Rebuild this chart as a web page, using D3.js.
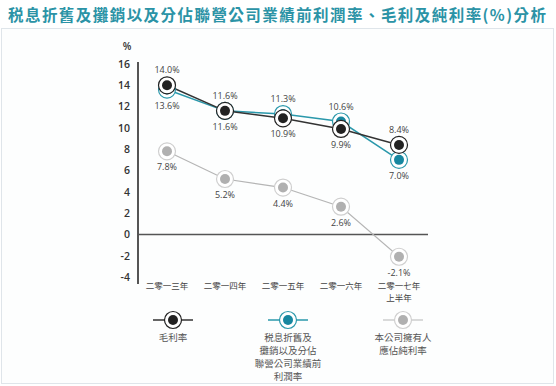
<!DOCTYPE html>
<html lang="zh-Hant">
<head>
<meta charset="utf-8">
<title>毛利及純利率分析</title>
<script src="https://cdn.jsdelivr.net/npm/d3@7"></script>
<style>
  body { margin: 0; background: #fff; }
  svg { display: block; }
  text { font-family: "Noto Sans CJK TC", "Noto Sans", sans-serif; }
</style>
</head>
<body>
<div id="chart"></div>
<script>
// data
var years = ["二零一三年", "二零一四年", "二零一五年", "二零一六年", "二零一七年\n上半年"];
var grossMargin = [14.0, 11.6, 10.9, 9.9, 8.4];
var ebitdaMargin = [13.6, 11.6, 11.3, 10.6, 7.0];
var netMargin = [7.8, 5.2, 4.4, 2.6, -2.1];
// label above (+1) or below (-1) the point
var grossPos = [1, -1, -1, -1, 1];
var ebitdaPos = [-1, 1, 1, 1, -1];
var netPos = [-1, -1, -1, -1, -1];
var yTicks = [16, 14, 12, 10, 8, 6, 4, 2, 0, -2, -4];
var legendNames = [["毛利率"], ["税息折舊及", "攤銷以及分佔", "聯營公司業績前", "利潤率"], ["本公司擁有人", "應佔純利率"]];

var w = 556, h = 386;

var svg = d3.select("#chart").append("svg")
    .attr("width", w)
    .attr("height", h);

// faint frame
svg.append("rect")
    .attr("x", 1.5).attr("y", 28.5)
    .attr("width", 552).attr("height", 355)
    .attr("fill", "#fdfefe")
    .attr("stroke", "#dfe5ea");

svg.append("text")
    .attr("x", 8)
    .attr("y", 21)
    .attr("fill", "#2b93a6")
    .attr("textLength", 538)
    .attr("lengthAdjust", "spacing")
    .style("font-size", "15.5px")
    .style("font-weight", "bold")
    .text("税息折舊及攤銷以及分佔聯營公司業績前利潤率、毛利及純利率(%)分析");

var xScale = d3.scaleBand()
    .domain(d3.range(years.length))
    .range([138, 428]);

var yScale = d3.scaleLinear()
    .domain([-4, 16])
    .range([277, 64]);

function cx(i) { return xScale(i) + xScale.bandwidth() / 2; }

// y axis
var yAxis = d3.axisLeft(yScale)
    .tickValues(yTicks)
    .tickSize(0)
    .tickPadding(8)
    .tickFormat(function (d) { return d; });

var gy = svg.append("g")
    .attr("transform", "translate(138,0)")
    .call(yAxis);
gy.select(".domain")
    .attr("d", "M0,62V284")
    .attr("stroke", "#555")
    .attr("stroke-width", 2);
gy.selectAll("text")
    .attr("fill", "#333")
    .style("font-family", "'Open Sans', sans-serif")
    .style("font-size", "10.5px")
    .style("font-weight", "600");

svg.append("text")
    .attr("x", 127)
    .attr("y", 50)
    .attr("text-anchor", "middle")
    .attr("fill", "#333")
    .style("font-family", "'Open Sans', sans-serif")
    .style("font-size", "10px")
    .style("font-weight", "600")
    .text("%");

// zero line
svg.append("line")
    .attr("x1", 138).attr("x2", 428)
    .attr("y1", yScale(0)).attr("y2", yScale(0))
    .attr("stroke", "#555")
    .attr("stroke-width", 1.5);

// x category labels
var xAxis = d3.axisBottom(xScale)
    .tickSize(0)
    .tickFormat(function (d) { return ""; });
var gx = svg.append("g")
    .attr("transform", "translate(0,280)")
    .call(xAxis);
gx.select(".domain").remove();
gx.selectAll(".tick text").each(function (d) {
    var t = d3.select(this);
    years[d].split("\n").forEach(function (line, k) {
        t.append("tspan")
            .attr("x", 0)
            .attr("dy", k === 0 ? 0 : 12)
            .text(line);
    });
});
gx.selectAll(".tick text")
    .attr("y", 9)
    .attr("dy", 0)
    .attr("fill", "#444")
    .style("font-size", "8.5px");

var series = [
    { values: netMargin, pos: netPos, line: "#b5b5b5", lw: 1.2, ring: "#cfcfcf", dot: "#b0b0b0" },
    { values: ebitdaMargin, pos: ebitdaPos, line: "#2a98ab", lw: 1.5, ring: "#2a98ab", dot: "#1787a0" },
    { values: grossMargin, pos: grossPos, line: "#333", lw: 1.5, ring: "#222", dot: "#222" }
];

var line = d3.line()
    .x(function (d, i) { return cx(i); })
    .y(function (d) { return yScale(d); });

series.forEach(function (s) {
    svg.append("path")
        .datum(s.values)
        .attr("d", line)
        .attr("fill", "none")
        .attr("stroke", s.line)
        .attr("stroke-width", s.lw);
});

series.forEach(function (s) {
    var g = svg.append("g");
    g.selectAll(".ring")
        .data(s.values)
        .enter()
        .append("circle")
        .attr("cx", function (d, i) { return cx(i); })
        .attr("cy", function (d) { return yScale(d); })
        .attr("r", 8.5)
        .attr("fill", "#fff")
        .attr("stroke", s.ring)
        .attr("stroke-width", 1.2);
    g.selectAll(".dot")
        .data(s.values)
        .enter()
        .append("circle")
        .attr("cx", function (d, i) { return cx(i); })
        .attr("cy", function (d) { return yScale(d); })
        .attr("r", 5)
        .attr("fill", s.dot);
});

// value labels
series.forEach(function (s) {
    svg.append("g").selectAll("text")
        .data(s.values)
        .enter()
        .append("text")
        .attr("x", function (d, i) { return cx(i); })
        .attr("y", function (d, i) { return yScale(d) + (s.pos[i] > 0 ? -12 : 19); })
        .attr("text-anchor", "middle")
        .attr("fill", "#444")
        .style("font-family", "'Open Sans', sans-serif")
        .style("font-size", "9px")
        .text(function (d) { return d.toFixed(1) + "%"; });
});

// legend
var legendX = [173, 288, 403];
var legendStyles = [series[2], series[1], series[0]];
legendNames.forEach(function (names, k) {
    var s = legendStyles[k];
    var g = svg.append("g").attr("transform", "translate(" + legendX[k] + ",320)");
    g.append("line")
        .attr("x1", -20).attr("x2", 20)
        .attr("stroke", s.line)
        .attr("stroke-width", s.lw);
    g.append("circle")
        .attr("r", 8.5)
        .attr("fill", "#fff")
        .attr("stroke", s.ring)
        .attr("stroke-width", 1.2);
    g.append("circle")
        .attr("r", 5)
        .attr("fill", s.dot);
    names.forEach(function (n, j) {
        g.append("text")
            .attr("y", 21 + j * 13)
            .attr("text-anchor", "middle")
            .attr("fill", "#555")
            .style("font-size", "9.5px")
            .text(n);
    });
});
</script>
</body>
</html>
